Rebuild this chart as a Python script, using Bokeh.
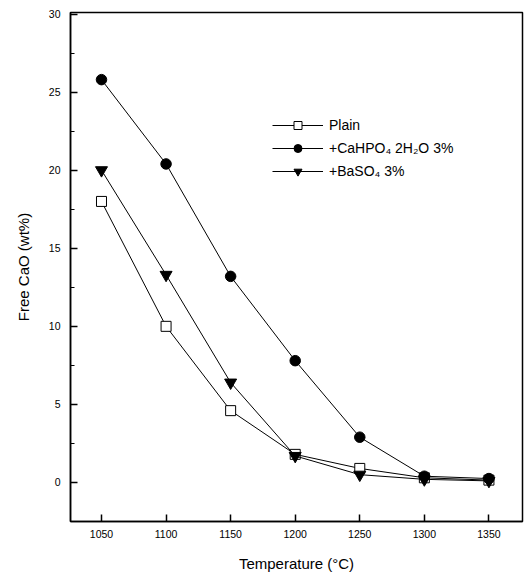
from bokeh.plotting import figure
from bokeh.models import ColumnDataSource, Legend, LegendItem, FixedTicker, Range1d
from bokeh.embed import file_html
from bokeh.resources import INLINE

# Sintering temperature (°C) and free lime content (wt%)
temperature = [1050, 1100, 1150, 1200, 1250, 1300, 1350]
plain = [18.0, 10.0, 4.6, 1.8, 0.9, 0.3, 0.15]
cahpo4 = [25.8, 20.4, 13.2, 7.8, 2.9, 0.4, 0.25]
baso4 = [20.0, 13.3, 6.4, 1.7, 0.5, 0.2, 0.1]

x_ticks = [1050, 1100, 1150, 1200, 1250, 1300, 1350]
y_ticks = [0, 5, 10, 15, 20, 25, 30]
y_minor = [-2.5, 2.5, 7.5, 12.5, 17.5, 22.5, 27.5]

FONT = "Liberation Sans"

p = figure(
    width=530, height=580,
    x_range=Range1d(1026, 1376), y_range=Range1d(-2.5, 30.1),
    output_backend="svg", toolbar_location=None,
    min_border_left=70, min_border_right=8, min_border_top=12, min_border_bottom=59,
)
p.grid.visible = False
p.outline_line_color = "black"
p.outline_line_width = 1.5
p.background_fill_color = "white"
p.border_fill_color = "white"

src = ColumnDataSource(dict(t=temperature, plain=plain, cahpo4=cahpo4, baso4=baso4))

l1 = p.line("t", "plain", source=src, line_color="black", line_width=1)
m1 = p.scatter("t", "plain", source=src, marker="square", size=10,
               fill_color="white", line_color="black", line_width=1)
l2 = p.line("t", "cahpo4", source=src, line_color="black", line_width=1)
m2 = p.scatter("t", "cahpo4", source=src, marker="circle", size=10.5,
               fill_color="black", line_color="black")
l3 = p.line("t", "baso4", source=src, line_color="black", line_width=1)
m3 = p.scatter("t", "baso4", source=src, marker="inverted_triangle", size=12,
               fill_color="black", line_color="black")

legend = Legend(
    items=[
        LegendItem(label="Plain", renderers=[l1, m1]),
        LegendItem(label="+CaHPO\u2084 2H\u2082O 3%", renderers=[l2, m2]),
        LegendItem(label="+BaSO\u2084 3%", renderers=[l3, m3]),
    ],
    location=(202, 340),
    border_line_color=None, background_fill_alpha=0,
    padding=0, margin=0, spacing=3,
    glyph_width=51, glyph_height=20, label_height=20, label_standoff=6,
    label_text_font=FONT, label_text_font_size="14px", label_text_color="black",
)
p.add_layout(legend)

for ax in (p.xaxis[0], p.yaxis[0]):
    ax.axis_line_color = "black"
    ax.axis_line_width = 1.5
    ax.major_tick_line_color = "black"
    ax.major_tick_line_width = 1.5
    ax.major_tick_in = 7
    ax.major_tick_out = 0
    ax.minor_tick_line_color = "black"
    ax.minor_tick_line_width = 1.2
    ax.minor_tick_in = 4
    ax.minor_tick_out = 0
    ax.major_label_text_font = FONT
    ax.major_label_text_font_size = "10.5px"
    ax.major_label_text_color = "black"
    ax.axis_label_text_font = FONT
    ax.axis_label_text_font_size = "15px"
    ax.axis_label_text_font_style = "normal"
    ax.axis_label_text_color = "black"

p.xaxis.ticker = FixedTicker(ticks=x_ticks)
p.xaxis.minor_tick_line_color = None
p.xaxis.axis_label = "Temperature (\u00b0C)"
p.xaxis.major_label_standoff = 8
p.xaxis.axis_label_standoff = 14

p.yaxis.ticker = FixedTicker(ticks=y_ticks, minor_ticks=y_minor)
p.yaxis.axis_label = "Free CaO (wt%)"
p.yaxis.major_label_standoff = 10
p.yaxis.axis_label_standoff = 14
p.yaxis.major_label_orientation = "horizontal"

open("out.html", "w").write(file_html(p, INLINE))
